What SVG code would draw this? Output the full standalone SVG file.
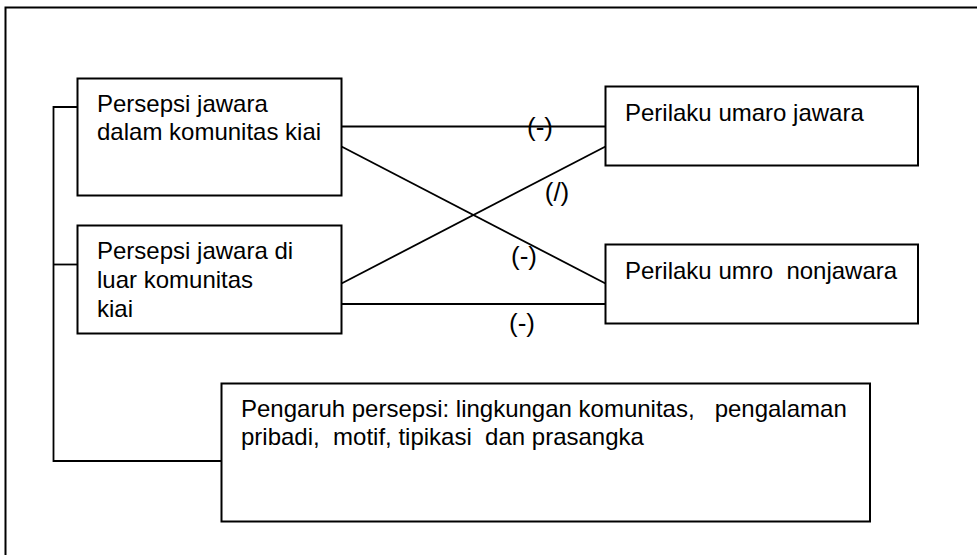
<svg xmlns="http://www.w3.org/2000/svg" width="977" height="555" viewBox="0 0 977 555">
<style>
.box{fill:#fff;stroke:#000;stroke-width:2}
.ln{fill:none;stroke:#000;stroke-width:1.8}
.frame{fill:none;stroke:#000;stroke-width:2}
text{font-family:"Liberation Sans",Arial,sans-serif;font-size:24px;fill:#000;white-space:pre}
.lbl{text-anchor:middle;font-size:26px}
</style>
<rect width="977" height="555" fill="#fff"/>
<g id="frame">
<polyline class="frame" points="5.5,560 5.5,7.5 980,7.5"/>
</g>
<g id="connectors">
<polyline class="ln" points="77,107 53.5,107 53.5,461 221,461"/>
<line class="ln" x1="53.5" y1="264.5" x2="77" y2="264.5"/>
<line class="ln" x1="341.5" y1="126.5" x2="605.5" y2="126.5"/>
<line class="ln" x1="341.5" y1="146.5" x2="605.5" y2="283.5"/>
<line class="ln" x1="341.5" y1="283.5" x2="605.5" y2="146.5"/>
<line class="ln" x1="341.5" y1="304" x2="605.5" y2="304"/>
<text class="lbl" x="540" y="136">(-)</text>
<text class="lbl" x="557" y="201">(/)</text>
<text class="lbl" x="524" y="265">(-)</text>
<text class="lbl" x="522" y="332">(-)</text>
</g>
<g id="n1">
<rect class="box" x="77.5" y="78.5" width="264" height="117"/>
<text x="97" y="112">Persepsi jawara</text>
<text x="97" y="140">dalam komunitas kiai</text>
</g>
<g id="n2">
<rect class="box" x="77.5" y="225.5" width="264" height="108"/>
<text x="97" y="259">Persepsi jawara di</text>
<text x="97" y="287.5">luar komunitas</text>
<text x="97" y="316.5">kiai</text>
</g>
<g id="n3">
<rect class="box" x="605.5" y="86.5" width="312.5" height="79"/>
<text x="625" y="121">Perilaku umaro jawara</text>
</g>
<g id="n4">
<rect class="box" x="605.5" y="244.5" width="312.5" height="79"/>
<text x="625" y="278.5">Perilaku umro  nonjawara</text>
</g>
<g id="n5">
<rect class="box" x="221.5" y="383.5" width="648.5" height="138"/>
<text x="241" y="416.5">Pengaruh persepsi: lingkungan komunitas,   pengalaman</text>
<text x="241" y="445">pribadi,  motif, tipikasi  dan prasangka</text>
</g>
</svg>
